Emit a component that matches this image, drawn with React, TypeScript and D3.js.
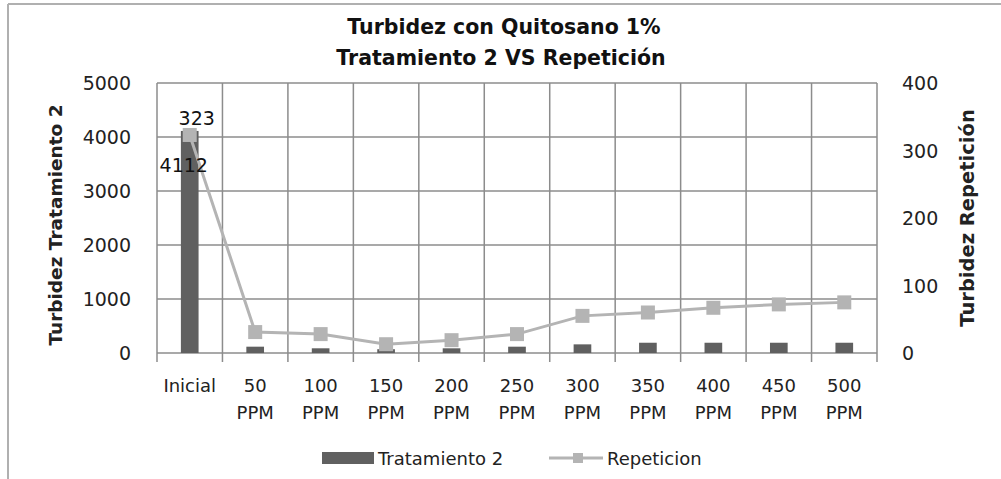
import React from "react";
import * as d3 from "d3";

const categories: string[][] = [
  ["Inicial"], ["50", "PPM"], ["100", "PPM"], ["150", "PPM"], ["200", "PPM"], ["250", "PPM"],
  ["300", "PPM"], ["350", "PPM"], ["400", "PPM"], ["450", "PPM"], ["500", "PPM"],
];
const tratamiento2: number[] = [4112, 117, 87, 70, 87, 117, 160, 190, 190, 190, 190];
const repeticion: number[] = [323, 31, 28, 13, 19, 28, 55, 60, 67, 72, 75];
const leftTicks: number[] = [0, 1000, 2000, 3000, 4000, 5000];
const rightTicks: number[] = [0, 100, 200, 300, 400];

const W = 1001;
const H = 479;
const FONT = "'DejaVu Sans', sans-serif";

export default function App() {
  const left = 157, right = 877, top = 83, bottom = 353;
  const keys = categories.map((_, i) => String(i));
  const x = d3.scaleBand<string>().domain(keys).range([left, right]).padding(0);
  const yL = d3.scaleLinear().domain([0, 5000]).range([bottom, top]);
  const yR = d3.scaleLinear().domain([0, 400]).range([bottom, top]);
  const bw = x.bandwidth();
  const barW = bw * 0.27;
  const cx = (i: number) => (x(String(i)) as number) + bw / 2;
  const line = d3.line<number>().x((_, i) => cx(i)).y((d) => yR(d));
  const grid = "#8c8c8c";
  const bounds = keys.map((k) => x(k) as number).concat([right]);

  return (
    <svg width={W} height={H} style={{ position: "absolute", left: 0, top: 0, background: "#fff" }} fontFamily={FONT}>
      <rect x={0} y={0} width={W} height={H} fill="#fff" />
      <line x1={8} y1={4} x2={W} y2={4} stroke="#b0b0b0" strokeWidth={2} />
      <line x1={8} y1={4} x2={8} y2={H} stroke="#b0b0b0" strokeWidth={2} />

      <text x={504} y={34} textAnchor="middle" fontWeight="bold" fontSize={20.5} fill="#111">Turbidez con Quitosano 1%</text>
      <text x={501} y={65} textAnchor="middle" fontWeight="bold" fontSize={20.5} fill="#111">Tratamiento 2 VS Repetición</text>

      {leftTicks.map((t) => (
        <line key={"h" + t} x1={left} x2={right} y1={yL(t)} y2={yL(t)} stroke={grid} strokeWidth={1.5} />
      ))}
      {bounds.map((b, i) => (
        <line key={"v" + i} x1={b} x2={b} y1={top} y2={bottom + 9} stroke={grid} strokeWidth={1.5} />
      ))}

      {leftTicks.map((t) => (
        <text key={"lt" + t} x={131} y={yL(t) + 7} textAnchor="end" fontSize={19} fill="#222">{t}</text>
      ))}
      {rightTicks.map((t) => (
        <text key={"rt" + t} x={902} y={yR(t) + 7} textAnchor="start" fontSize={19} fill="#222">{t}</text>
      ))}

      <text transform={`translate(62,225) rotate(-90)`} textAnchor="middle" fontWeight="bold" fontSize={18.5} fill="#222">Turbidez Tratamiento 2</text>
      <text transform={`translate(974,218) rotate(-90)`} textAnchor="middle" fontWeight="bold" fontSize={19.5} fill="#222">Turbidez Repetición</text>

      {categories.map((c, i) => (
        <g key={"xl" + i}>
          {c.map((s, j) => (
            <text key={j} x={cx(i)} y={392 + j * 27} textAnchor="middle" fontSize={18} fill="#222">{s}</text>
          ))}
        </g>
      ))}

      {tratamiento2.map((v, i) => (
        <rect key={"b" + i} x={cx(i) - barW / 2} y={yL(v)} width={barW} height={bottom - yL(v)} fill="#606060" />
      ))}

      <path d={line(repeticion) || ""} fill="none" stroke="#b4b4b4" strokeWidth={3} />
      {repeticion.map((v, i) => (
        <rect key={"m" + i} x={cx(i) - 7} y={yR(v) - 7} width={14} height={14} fill="#b4b4b4" />
      ))}

      <text x={cx(0) - 6} y={yL(tratamiento2[0]) + 41} textAnchor="middle" fontSize={19} fill="#111">{tratamiento2[0]}</text>
      <text x={cx(0) + 7} y={yR(repeticion[0]) - 10} textAnchor="middle" fontSize={19} fill="#111">{repeticion[0]}</text>

      <rect x={322} y={452} width={52} height={12} fill="#606060" />
      <text x={378} y={465} fontSize={18} fill="#222">Tratamiento 2</text>
      <line x1={549} x2={603} y1={458} y2={458} stroke="#b4b4b4" strokeWidth={3} />
      <rect x={573} y={453} width={10} height={10} fill="#b4b4b4" />
      <text x={607} y={465} fontSize={18} fill="#222">Repeticion</text>
    </svg>
  );
}
